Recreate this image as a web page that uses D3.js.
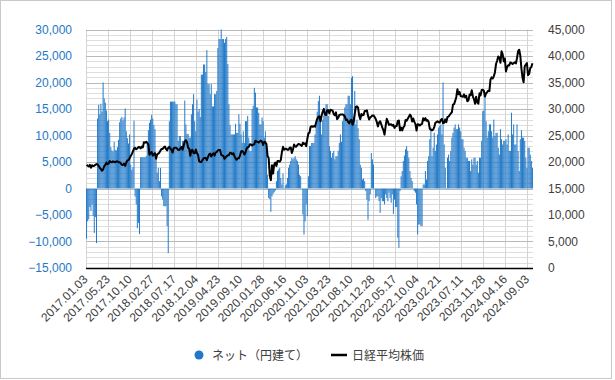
<!DOCTYPE html>
<html><head><meta charset="utf-8">
<script src="https://cdn.jsdelivr.net/npm/d3@7"></script>
<style>body{margin:0;background:#fff} svg{display:block}</style>
</head><body><svg id="c" width="615" height="380"></svg>
<script>
// x-axis tick labels (every 20 weeks)
const tickLabels = ["2017.01.03","2017.05.23","2017.10.10","2018.02.27","2018.07.17","2018.12.04","2019.04.23","2019.09.10","2020.01.28","2020.06.16","2020.11.03","2021.03.23","2021.08.10","2021.12.28","2022.05.17","2022.10.04","2023.02.21","2023.07.11","2023.11.28","2024.04.16","2024.09.03"];
const tickEvery = 20;
const seriesNames = ["ネット（円建て）","日経平均株価"];
const leftTicks = [-15000,-10000,-5000,0,5000,10000,15000,20000,25000,30000];
const rightTicks = [0,5000,10000,15000,20000,25000,30000,35000,40000,45000];

// weekly net (yen) values, bars, left axis
const netValues = [
-9500,-6200,-5800,-3500,-4200,-3000,-5200,-8400,-5400,-10300,
13200,15800,14000,16000,14500,20000,17000,16200,14700,12700,13000,10500,7800,7200,7000,8800,
7300,7200,7800,9200,12500,13200,13500,12800,13400,15100,10800,9500,8500,10200,4500,3500,4000,12800,
-1500,-3000,-7500,-6500,-8600,
5900,5900,5900,5900,5900,6100,8500,11000,12400,13000,13900,13200,12000,11200,5500,3000,3900,1400,3900,
-1500,-2100,-3300,-3400,-3300,-7100,-12200,
12700,16400,16400,16400,16400,16400,15900,15900,9000,9900,9900,8000,9000,9000,16600,12100,10300,10300,9600,9600,14000,15900,17800,12700,10800,16800,14500,
15000,13500,21500,21500,23400,23400,22000,26100,19700,19700,17800,19700,15500,15500,17800,17800,18400,26500,28200,28200,
30000,28200,28200,27500,28200,28600,23500,15900,12000,10200,10200,10200,10200,12200,10500,10500,14000,12200,10200,8600,
10800,8600,12700,12700,13700,9600,7100,7100,15000,15600,19000,18100,15300,15300,14300,12100,12100,13400,12700,9600,
10800,7100,2600,
-1800,-2000,-4400,-1500,-1000,-700,-400,
1400,3300,3600,3900,2000,760,2800,100,600,800,2000,3900,4500,5200,5800,5500,5800,6100,5500,5200,4500,2600,2300,100,
-4900,-8700,-6200,-3000,-5200,
2300,8000,8000,8600,8600,8600,10200,12700,14500,16500,17500,13400,10200,13000,13800,14600,15900,15900,13700,8000,
7100,5800,6700,7100,5500,6100,6100,7100,8600,10200,8800,12700,14000,15300,15900,15900,17500,17500,15900,20900,
21200,13400,18400,12100,13000,11400,9300,4500,3900,1700,1900,1400,
-500,-2100,-5900,-2400,-1100,
6700,5500,4500,100,
-1800,-1500,-1500,-2400,-4600,-1800,-2400,-2400,-3000,-1100,-1800,-2400,-800,-1800,-2700,-1100,-4800,-2100,-3500,-3500,-9300,-11200,-500,
2300,3300,5200,6200,7400,8000,7100,5800,3300,2000,1400,100,
-500,-800,-3000,-8700,-6800,-6800,-7100,-7100,
760,760,3300,1700,5200,6100,9300,11500,6100,7700,10500,7100,8300,10200,11500,11800,12100,10200,20000,8300,
3900,100,5800,6400,5200,7100,9600,10500,11500,12100,11200,11200,12100,11500,10800,9300,9300,7700,7100,5800,
5800,5200,5200,3300,5500,4500,5800,5800,4500,5200,3000,5800,5800,9000,14600,14700,17100,12700,9600,10800,
12100,12100,10800,9600,13000,9900,10500,10500,7700,6400,11200,9300,8300,9000,9000,9300,8300,10200,7100,7100,
14300,10200,12100,8300,8300,12100,7100,3300,9300,11000,9600,9600,9000,5800,3900,7700,7700,6400,5200,3900
];

// weekly Nikkei average, line, right axis
const nikkeiValues = [
// 2017
19450,19290,19140,19470,18920,19380,19230,19280,19470,19600,19520,19260,18910,18660,18340,18620,19200,19450,19880,19590,
19690,20180,20010,19940,20130,20030,19930,20120,20100,19960,19950,19730,19470,19450,19690,19270,19910,20300,20360,20690,
21160,21460,22010,22540,22680,22400,22550,22820,22810,22550,22900,22760,
// 2018
23710,23650,23800,23630,23270,21380,21720,21890,21180,21470,21680,20620,21450,21570,21780,22160,22470,22470,22760,22930,
22450,22170,22690,22850,22520,22300,21790,22600,22700,22710,22530,22300,22270,22600,22870,22310,23090,23870,24120,23780,
22690,22530,21180,22240,22250,21680,21650,22350,21680,21370,20170,20010,
// 2019
20000,20360,20670,20770,20790,20330,20900,21430,21600,21030,21450,21630,21210,21810,21870,22200,22260,22260,21340,21250,
21120,20600,20880,21120,21260,21280,21750,21690,21470,21660,21090,20680,20420,20710,20700,21200,21990,22080,21880,21410,
21800,22490,22800,22850,23330,23300,23110,23290,23350,24020,23820,23840,
// 2020
23660,23850,24040,23830,23200,23830,23690,23390,21140,20750,17430,16550,19390,17820,19500,19900,19260,20190,20180,20040,
20390,21880,22860,22310,22480,22510,22310,22290,22700,22750,21710,22330,23290,22920,22880,23210,23410,23360,23200,23030,
23620,23410,23520,22980,24330,25390,25530,26640,26750,26650,26760,26660,
// 2021
27440,28140,28520,28630,27660,28780,29520,30020,28970,28860,29720,29790,29180,29850,29770,29680,29020,28810,29360,28080,
28320,28860,28940,28950,28960,28880,28600,27940,28000,27550,27280,27820,27980,27010,27640,29130,30380,30500,30250,28770,
28050,29070,28800,28890,29610,29610,29750,28750,28030,28440,28550,28780,
// 2022
28790,28480,28120,27520,26720,27440,27700,27120,26480,25990,25160,26830,28150,27670,26990,27090,27110,26850,27000,26430,
26740,26780,27760,27820,25960,26490,25940,26520,26790,27910,27800,28180,28550,28930,28640,27650,28210,27570,27150,25940,
27120,27090,26890,27110,27200,28260,27900,28280,27780,27900,27530,26240,
// 2023
26090,25970,26120,26550,27380,27510,27670,27510,27450,27930,28140,27330,27390,28040,27520,28490,28560,28860,29160,29390,
30810,30920,31520,32270,33710,32780,33190,32390,32390,32300,32760,32190,32470,31450,31620,32710,32610,33530,32400,31860,
30990,32320,31260,30990,32950,32570,33580,33630,33430,32310,32970,33170,33460,
// 2024
33380,35580,35960,35750,36160,36900,38490,39100,39910,39690,38710,40890,40370,38990,39520,37070,37930,38240,38230,38790,
38650,38490,38680,38810,38600,39580,40910,41190,40060,37670,35910,35030,38060,38360,38650,36390,36580,37720,37920,38640
];

const svg = d3.select("#c");
const L = 86, R = 533, T = 29.5, B = 268;
const n = netValues.length;
const pad = 0.12;
const x = d3.scaleBand().domain(d3.range(n)).range([L, R]).paddingInner(pad).paddingOuter(pad/2);
const step = x.step(), bw = x.bandwidth();
const edge = i => x(i) - step*pad/2;
const yL = d3.scaleLinear().domain([-15000, 30000]).range([B, T]);
const yR = d3.scaleLinear().domain([0, 45000]).range([B, T]);

svg.append("rect").attr("x",0.5).attr("y",0.5).attr("width",611).attr("height",378)
  .attr("fill","#fff").attr("stroke","#c9c9c9");

// grid
const g = svg.append("g");
g.selectAll(".mn").data(d3.range(-15000, 30001, 1000).filter(v => v % 5000 !== 0)).join("line")
  .attr("x1",L).attr("x2",R).attr("y1",d=>Math.round(yL(d))+0.5).attr("y2",d=>Math.round(yL(d))+0.5)
  .attr("stroke","#dedede").attr("stroke-width",1);
g.selectAll(".vg").data(d3.range(0, n, tickEvery)).join("line")
  .attr("x1",d=>Math.round(edge(d))+0.5).attr("x2",d=>Math.round(edge(d))+0.5).attr("y1",T).attr("y2",B)
  .attr("stroke","#d4d4d4").attr("stroke-width",1);
g.selectAll(".mj").data(leftTicks).join("line")
  .attr("x1",L).attr("x2",R).attr("y1",d=>Math.round(yL(d))+0.5).attr("y2",d=>Math.round(yL(d))+0.5)
  .attr("stroke","#b9b9b9").attr("stroke-width",1);

// bars
svg.append("g").selectAll("rect").data(netValues).join("rect")
  .attr("x",(d,i)=>x(i)).attr("width",bw)
  .attr("y",d=>yL(Math.max(0,d))).attr("height",d=>Math.abs(yL(d)-yL(0)))
  .attr("fill","#1f78c8");

// line
svg.append("path").datum(nikkeiValues)
  .attr("d", d3.line().x((d,i)=>x(i)+bw/2).y(d=>yR(d)))
  .attr("fill","none").attr("stroke","#000").attr("stroke-width",2).attr("stroke-linejoin","round");

// bottom axis line
svg.append("line").attr("x1",L).attr("x2",R).attr("y1",B+0.5).attr("y2",B+0.5).attr("stroke","#000").attr("stroke-width",1.3);

const font = '"Liberation Sans", Arial, sans-serif';
// left axis
const la = svg.append("g").attr("transform",`translate(${L},0)`)
  .call(d3.axisLeft(yL).tickValues(leftTicks).tickFormat(d3.format(",")).tickSize(0).tickPadding(14));
la.select(".domain").remove();
la.selectAll("text").attr("fill","#2478c6").style("font-family",font).style("font-size","12px");
// right axis
const ra = svg.append("g").attr("transform",`translate(${R},0)`)
  .call(d3.axisRight(yR).tickValues(rightTicks).tickFormat(d3.format(",")).tickSize(0).tickPadding(15));
ra.select(".domain").remove();
ra.selectAll("text").attr("fill","#404040").style("font-family",font).style("font-size","12px");

// x labels
svg.append("g").selectAll("text").data(tickLabels).join("text")
  .attr("transform",(d,k)=>`translate(${x(k*tickEvery)+bw/2+2},${B+12}) rotate(-45)`)
  .attr("text-anchor","end").attr("fill","#404040")
  .style("font-family",font).style("font-size","12px").text(d=>d);

// legend
const lg = svg.append("g");
lg.append("circle").attr("cx",199).attr("cy",355).attr("r",4.5).attr("fill","#1f78c8");
lg.append("text").attr("x",212).attr("y",359.5).text(seriesNames[0]);
lg.append("line").attr("x1",331).attr("x2",347).attr("y1",355).attr("y2",355).attr("stroke","#000").attr("stroke-width",2.5);
lg.append("text").attr("x",352).attr("y",359.5).text(seriesNames[1]);
lg.selectAll("text").attr("fill","#404040").style("font-family",'"Noto Sans CJK JP", sans-serif').style("font-size","12px");
</script></body></html>
